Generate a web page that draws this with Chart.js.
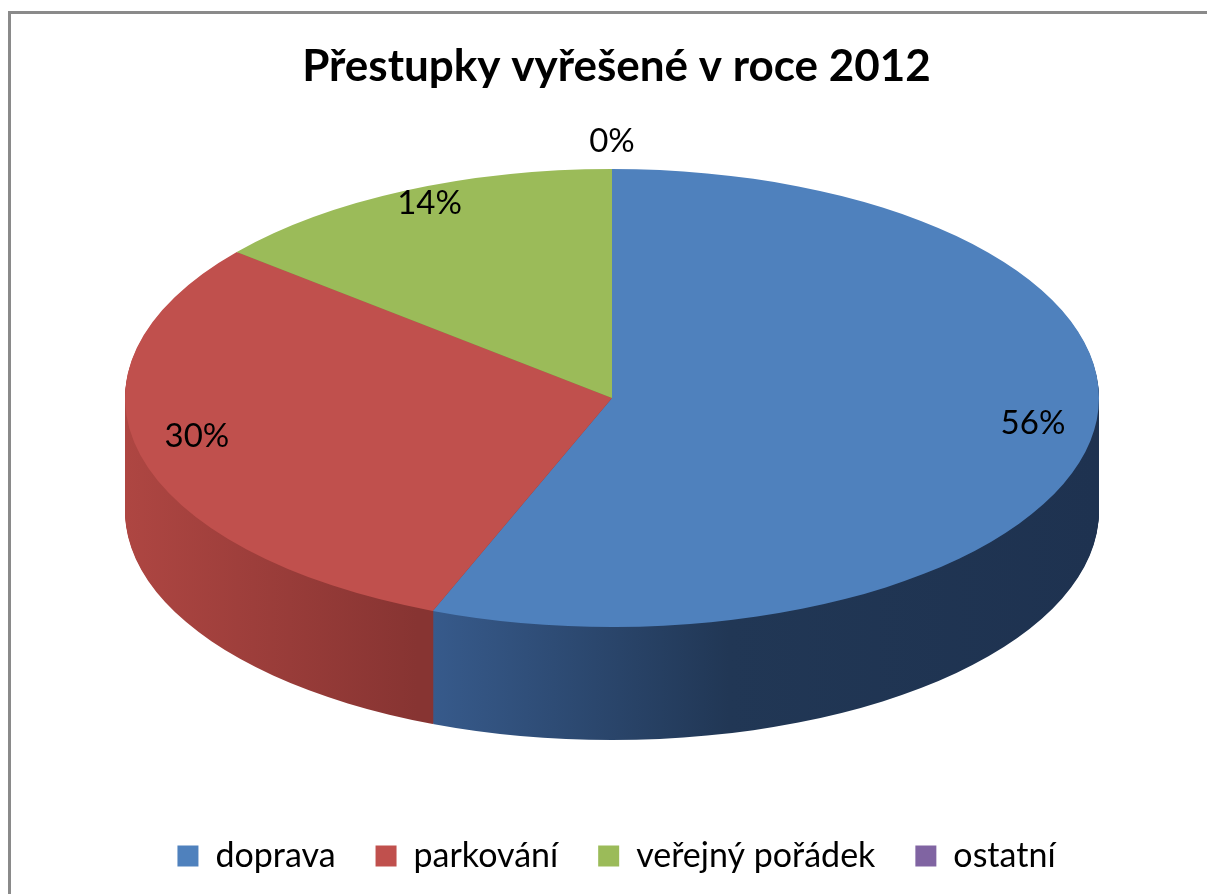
<!DOCTYPE html>
<html>
<head>
<meta charset="utf-8">
<script src="https://cdn.jsdelivr.net/npm/chart.js@4/dist/chart.umd.min.js"></script>
<style>
  body { margin: 0; background: #fff; overflow: hidden; }
  #frame { position: absolute; left: 8px; top: 11px; width: 1400px; height: 1100px; border: 3px solid #8a8a8a; }
  #wrap { position: absolute; left: 0; top: 0; width: 1207px; height: 894px; }
</style>
</head>
<body>
<div id="frame"></div>
<div id="wrap"><canvas id="pie" width="1207" height="894"></canvas></div>
<script>
// data
var categories = ['doprava', 'parkování', 'veřejný pořádek', 'ostatní'];
var values = [56, 30, 14, 0];
var labelsText = ['56%', '30%', '14%', '0%'];
var colors = ['#4f81bd', '#c0504d', '#9bbb59', '#8064a2'];

// pohled na "3D" koláč
var view = { cx: 612, cy: 398, rx: 487, ry: 229, depth: 113 };

function project(ctx, arc) {
    ctx.translate(view.cx, view.cy);
    ctx.scale(view.rx / arc.outerRadius, view.ry / arc.outerRadius);
    ctx.translate(-arc.x, -arc.y);
}

// stěny boku - tmavší barvy s přechodem
var sideStops = [
    [[0, '#3b6094'], [0.3, '#385c8e'], [0.62, '#213755'], [1, '#1e3250']],
    [[0, '#ae4642'], [0.3, '#873432'], [1, '#873432']],
    [[0, '#7a9446'], [1, '#5f7335']],
    [[0, '#654f80'], [1, '#4c3c61']]
];

var pie3d = {
    id: 'pie3d',
    beforeDatasetsDraw: function (chart) {
        var ctx = chart.ctx;
        var arcs = chart.getDatasetMeta(0).data;
        var a0 = arcs[0];
        var R = a0.outerRadius;
        var grads = sideStops.map(function (stops) {
            var g = ctx.createLinearGradient(a0.x - R, 0, a0.x + R, 0);
            stops.forEach(function (s) { g.addColorStop(s[0], s[1]); });
            return g;
        });
        for (var d = view.depth; d > 0; d--) {
            ctx.save();
            ctx.translate(0, d);
            project(ctx, a0);
            arcs.forEach(function (a, i) {
                if (a.endAngle - a.startAngle <= 0) return;
                ctx.beginPath();
                ctx.moveTo(a.x, a.y);
                ctx.arc(a.x, a.y, a.outerRadius, a.startAngle, a.endAngle);
                ctx.closePath();
                ctx.fillStyle = grads[i];
                ctx.fill();
            });
            ctx.restore();
        }
        ctx.save();
        project(ctx, a0);
    },
    afterDatasetsDraw: function (chart) {
        var ctx = chart.ctx;
        ctx.restore();
        var arcs = chart.getDatasetMeta(0).data;
        ctx.save();
        ctx.font = '33px Lato';
        ctx.fillStyle = '#000';
        ctx.textAlign = 'center';
        ctx.textBaseline = 'middle';
        arcs.forEach(function (a, i) {
            var mid = (a.startAngle + a.endAngle) / 2;
            var inside = values[i] > 0;
            var k = inside ? 0.88 : 1.12;
            var x = view.cx + view.rx * k * Math.cos(mid);
            var y = view.cy + view.ry * k * Math.sin(mid) - (inside ? 12 : 0);
            ctx.fillText(labelsText[i], x, y);
        });
        ctx.restore();
    }
};

new Chart(document.getElementById('pie').getContext('2d'), {
    type: 'pie',
    data: {
        labels: categories,
        datasets: [{
            data: values,
            backgroundColor: colors,
            borderWidth: 0
        }]
    },
    options: {
        responsive: false,
        animation: false,
        events: [],
        layout: { padding: { left: 26, bottom: 11 } },
        plugins: {
            title: {
                display: true,
                text: 'Přestupky vyřešené v roce 2012',
                color: '#000',
                font: { family: 'Lato', size: 44, weight: 'bold' },
                padding: { top: 40, bottom: 20 }
            },
            legend: {
                position: 'bottom',
                labels: {
                    color: '#000',
                    font: { family: 'Lato', size: 34 },
                    boxWidth: 21,
                    boxHeight: 21,
                    padding: 40
                }
            },
            tooltip: { enabled: false }
        }
    },
    plugins: [pie3d]
});
</script>
</body>
</html>
